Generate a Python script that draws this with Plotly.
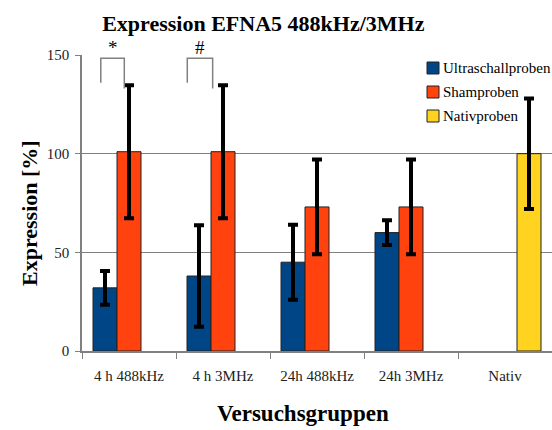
import plotly.graph_objects as go

categories = ["4 h 488kHz", "4 h 3MHz", "24h 488kHz", "24h 3MHz", "Nativ"]
ultraschall = [32, 38, 45, 60, None]
ultraschall_err = [8.6, 25.7, 19, 6.3, None]
sham = [101, 101, 73, 73, None]
sham_err = [33.7, 33.7, 24, 24, None]
nativ = [None, None, None, None, 100]
nativ_err = [None, None, None, None, 28]

series_names = ["Ultraschallproben", "Shamproben", "Nativproben"]
series_colors = ["#004586", "#ff420e", "#ffd320"]

serif = "Liberation Serif, Times New Roman, serif"
err_style = dict(type="data", visible=True, color="black", thickness=4, width=5)
outline = dict(color="#222222", width=1)

W, H = 552, 430
L, R, T, B = 82, 0, 55, 79
PW, PH = W - L - R, H - T - B


def px(x):
    return (x - L) / PW


def py(y):
    return (H - B - y) / PH


fig = go.Figure()
for name, color, vals, errs in zip(series_names, series_colors,
                                   [ultraschall, sham, nativ],
                                   [ultraschall_err, sham_err, nativ_err]):
    fig.add_trace(go.Bar(name=name, x=categories, y=vals, showlegend=False,
                         marker=dict(color=color, line=outline),
                         error_y=dict(array=errs, **err_style)))

# legend drawn as boxes + labels in the upper right of the plot area
for i, (name, color) in enumerate(zip(series_names, series_colors)):
    yc = 68 + i * 24
    fig.add_shape(type="rect", xref="paper", yref="paper",
                  x0=px(427), x1=px(439), y0=py(yc + 6), y1=py(yc - 6),
                  fillcolor=color, line=dict(color="#222222", width=1))
    fig.add_annotation(xref="paper", yref="paper", x=px(441), y=py(yc),
                       xanchor="left", yanchor="middle", showarrow=False,
                       text=name, font=dict(family=serif, size=15, color="black"))

# significance brackets
brackets = [(-0.30, -0.05, 136, 133, "*"), (0.62, 0.89, 136, 133, "#")]
for x0, x1, yl, yr, sym in brackets:
    fig.add_shape(type="path", xref="x", yref="y",
                  path=f"M {x0},{yl} L {x0},148.3 L {x1},148.3 L {x1},{yr}",
                  line=dict(color="#808080", width=1.5))
    fig.add_annotation(x=(x0 + x1) / 2, y=148.3, xref="x", yref="y", text=sym,
                       showarrow=False, yanchor="bottom", yshift=-2,
                       font=dict(family=serif, size=19, color="black"))

# axis titles
fig.add_annotation(xref="paper", yref="paper", x=px(303), y=py(413),
                   xanchor="center", yanchor="middle", showarrow=False,
                   text="<b>Versuchsgruppen</b>",
                   font=dict(family=serif, size=23, color="black"))
fig.add_annotation(xref="paper", yref="paper", x=px(29), y=py(213),
                   xanchor="center", yanchor="middle", showarrow=False,
                   textangle=-90, text="<b>Expression [%]</b>",
                   font=dict(family=serif, size=22, color="black"))

fig.update_layout(
    width=W, height=H,
    margin=dict(l=L, r=R, t=T, b=B),
    paper_bgcolor="white", plot_bgcolor="white",
    barmode="group", bargap=0.234, bargroupgap=0,
    font=dict(family=serif, color="black"),
    title=dict(text="<b>Expression EFNA5 488kHz/3MHz</b>", x=0.477, xanchor="center",
               y=0.945, yanchor="middle", font=dict(family=serif, size=22, color="black")),
    xaxis=dict(type="category", range=[-0.5, 4.5], tickson="boundaries",
               automargin=False,
               ticks="outside", ticklen=6, tickcolor="#808080",
               showline=True, linecolor="#808080", linewidth=1.5,
               ticklabelstandoff=10,
               tickfont=dict(family=serif, size=15, color="#222222")),
    yaxis=dict(range=[0, 150], tickvals=[0, 50, 100, 150], showgrid=True,
               automargin=False,
               gridcolor="#808080", gridwidth=1, ticks="outside", ticklen=5,
               tickcolor="#808080", showline=True, linecolor="#808080", linewidth=1.5,
               zeroline=False, ticklabelstandoff=3,
               tickfont=dict(family=serif, size=15, color="#222222")),
)

fig.write_html("out.html")
